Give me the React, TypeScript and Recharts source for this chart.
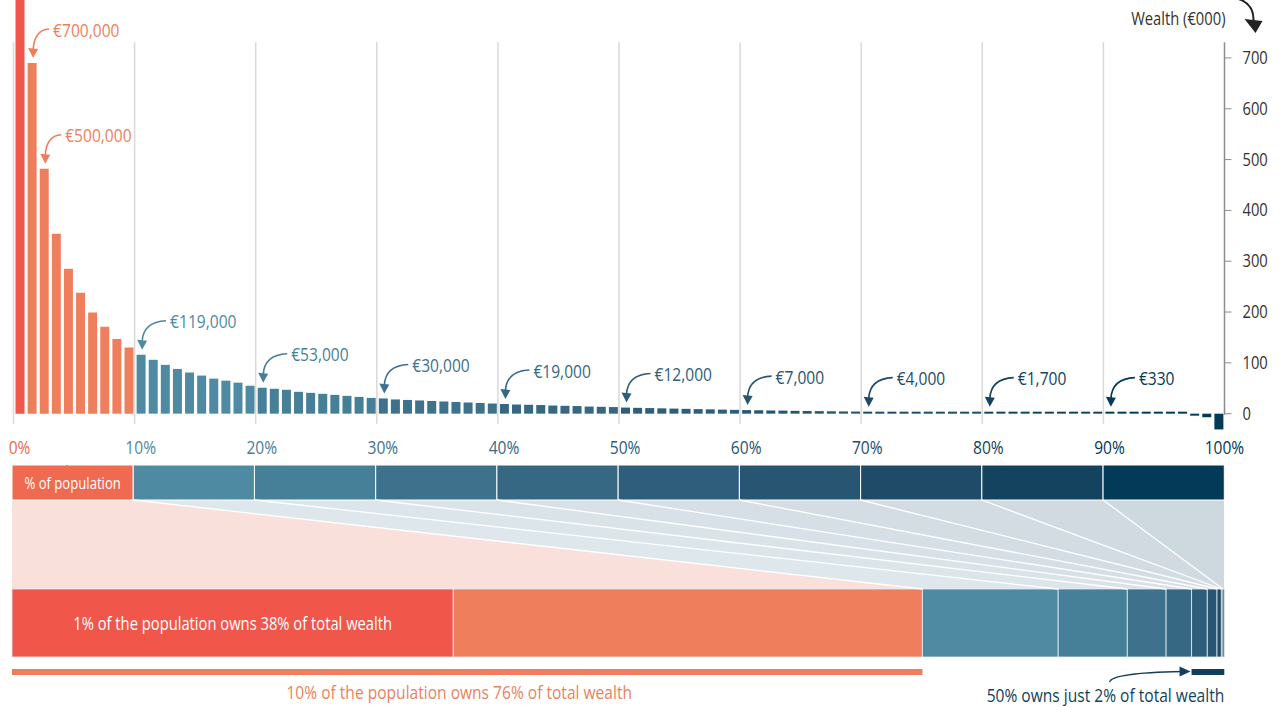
import React from 'react';
import { BarChart, Bar, Cell, XAxis, YAxis, ReferenceLine, LabelList, ComposedChart, Area, ReferenceArea } from 'recharts';

const FONT = "'Open Sans', 'Noto Sans', sans-serif";
const SQUEEZE = 0.82; // horizontal squeeze to mimic a condensed face

// wealth of each percentile of the population, €000, richest first (top 1% runs off the scale)
const WEALTH = [
  1500, 690, 482, 354, 285, 238, 199, 171, 147, 130,
  116, 106, 96, 88, 81, 75, 69, 65, 61, 55,
  51, 49, 47, 43, 41, 39, 37, 35, 33, 31,
  30, 28, 27, 26, 25, 24, 23, 22, 21, 20,
  19, 18, 17.5, 17, 16, 15.5, 15, 14, 13.5, 13,
  12, 11.5, 11, 10.5, 10, 9.5, 9, 8.5, 8, 7.5,
  7, 6.7, 6.3, 6, 5.6, 5.3, 5, 4.7, 4.4, 4.2,
  4, 3.7, 3.4, 3.1, 2.9, 2.6, 2.4, 2.2, 2, 1.8,
  1.7, 1.5, 1.4, 1.2, 1.1, 1, 0.9, 0.7, 0.6, 0.5,
  0.33, 0.3, 0.25, 0.2, 0.15, 0.1, 0.05, -2, -7, -31,
];

const CALLOUT_BARS = [2, 3, 11, 21, 31, 41, 51, 61, 71, 81, 91];
const CALLOUT_TEXT = ['€700,000', '€500,000', '€119,000', '€53,000', '€30,000', '€19,000', '€12,000', '€7,000', '€4,000', '€1,700', '€330'];

const PCT_TICKS = [1, 11, 21, 31, 41, 51, 61, 71, 81, 91, 100];
const PCT_LABELS = ['0%', '10%', '20%', '30%', '40%', '50%', '60%', '70%', '80%', '90%', '100%'];
const WEALTH_TICKS = [0, 100, 200, 300, 400, 500, 600, 700];

// share of total wealth (%): top 1%, next 9%, then deciles 10-20% ... 90-100%
const WEALTH_SHARE = [36.4, 38.7, 11.2, 5.7, 3.2, 2.1, 1.3, 0.8, 0.36, 0.13, 0.11];
// share of population (%) per decile
const POP_SHARE = [10, 10, 10, 10, 10, 10, 10, 10, 10, 10];

const TOP1 = '#F0564A';
const TOP10 = '#EF7F5C';
const POP_FIRST = '#EF6A50';
const DECILE = ['#4E8BA3', '#467F98', '#3E728C', '#366884', '#2E5E7B', '#275572', '#1F4B68', '#144360', '#033A58'];
const LINK_FILL = ['#F9E0DB', '#DDE7EC', '#DBE5EA', '#D9E3E8', '#D7E1E7', '#D5DFE5', '#D3DDE3', '#D2DCE2', '#D0DAE0', '#CED9DF'];
const NAVY = '#123F5E';

const barColor = (i: number) => (i === 0 ? TOP1 : i < 10 ? TOP10 : DECILE[Math.floor(i / 10) - 1]);

const rows = WEALTH.map((w, i) => ({ p: i + 1, w }));

const cum = (arr: number[]) => {
  const out = [0];
  arr.forEach((v) => out.push(out[out.length - 1] + v));
  const total = out[out.length - 1];
  return out.map((v) => Math.round((v * 100000) / total) / 1000);
};
const popEdges = cum(POP_SHARE);
const shareEdges = cum(WEALTH_SHARE);
const decileEdges = [0, ...shareEdges.slice(2)];

// vertical layout of the lower panel (chart units)
const Y_POP = [175, 210];
const Y_LINK = [86, 175];
const Y_BAR = [18, 86];
const Y_UNDER = [0, 6];

const T = Y_LINK[1];
const B = Y_LINK[0];
const edgeY = (k: number, x: number, vertical: number) => {
  const a = popEdges[k];
  const c = decileEdges[k];
  if (c <= a) return vertical;
  if (x <= a) return T;
  if (x >= c) return B;
  return T + ((B - T) * (x - a)) / (c - a);
};
const strip = (k: number) => {
  const xs = Array.from(new Set([popEdges[k], popEdges[k + 1], decileEdges[k], decileEdges[k + 1]]))
    .sort((m, n) => m - n)
    .filter((x) => x >= popEdges[k] && x <= decileEdges[k + 1]);
  return xs.map((x) => ({ x, r: [edgeY(k, x, B), edgeY(k + 1, x, T)] }));
};

// narrow text: draw at (x, y) squeezed horizontally
const CText = ({ x, y, children, ...rest }: any) => (
  <text transform={`translate(${x},${y}) scale(${SQUEEZE},1)`} fontFamily={FONT} {...rest}>
    {children}
  </text>
);

const Callout = (props: any) => {
  const { x, y, width, index } = props;
  const n = CALLOUT_BARS.indexOf(index + 1);
  if (n < 0) return null;
  const cx = x + width / 2;
  const top = y;
  const color = barColor(index);
  const dx = index < 10 ? 21 : 29;
  return (
    <g>
      <path d={`M${cx + dx - 4},${top - 34} Q${cx + 2},${top - 33} ${cx + 1},${top - 13}`} stroke={color} strokeWidth={1.6} fill="none" />
      <path d={`M${cx - 4},${top - 15} L${cx + 6},${top - 14} L${cx + 1},${top - 5} Z`} fill={color} />
      <CText x={cx + dx} y={top - 34} dominantBaseline="central" fill={color} fontSize={19}>
        {CALLOUT_TEXT[n]}
      </CText>
    </g>
  );
};

const PctTick = ({ x, y, payload }: any) => {
  const n = PCT_TICKS.indexOf(payload.value);
  const color = n === 0 ? POP_FIRST : DECILE[Math.min(n, 9) - 1];
  return (
    <CText x={x + (n === 10 ? 6 : 0)} y={y + 12} textAnchor="middle" fill={color} fontSize={19}>
      {PCT_LABELS[n]}
    </CText>
  );
};

const WealthTick = ({ x, y, payload }: any) => (
  <CText x={x + 9} y={y + 6} textAnchor="start" fill="#333" fontSize={18}>
    {payload.value}
  </CText>
);

const WealthTitle = (props: any) => {
  const vx = props.viewBox.x;
  return (
    <g>
      <CText x={vx + 1} y={18} textAnchor="end" dominantBaseline="central" fill="#333" fontSize={18}>
        Wealth (€000)
      </CText>
      <path d={`M${vx + 14},-1 Q${vx + 30},4 ${vx + 29},22`} stroke="#222" strokeWidth={2} fill="none" />
      <path d={`M${vx + 20},19 L${vx + 38},21 L${vx + 31},33 Z`} fill="#222" />
    </g>
  );
};

const PopLabel = (props: any) => {
  const { x, y, width, height } = props.viewBox;
  return (
    <g>
      <CText x={x + width / 2} y={y + height / 2} textAnchor="middle" dominantBaseline="central" fill="#fff" fontSize={16}>
        % of population
      </CText>
      <path d={`M${x + 55},${y + 1} Q${x + 55},${y - 16} ${x + 36},${y - 18}`} stroke={POP_FIRST} strokeWidth={1.6} fill="none" />
      <path d={`M${x + 29},${y - 18} L${x + 38},${y - 23} L${x + 38},${y - 13} Z`} fill={POP_FIRST} />
    </g>
  );
};

const TopLabel = (props: any) => {
  const { x, y, width, height } = props.viewBox;
  return (
    <CText x={x + width / 2} y={y + height / 2} textAnchor="middle" dominantBaseline="central" fill="#fff" fontSize={18}>
      1% of the population owns 38% of total wealth
    </CText>
  );
};

const Top10Label = (props: any) => {
  const { x, y, width, height } = props.viewBox;
  return (
    <CText x={x + width / 2 - 8} y={y + height + 24} textAnchor="middle" fill={TOP10} fontSize={19}>
      10% of the population owns 76% of total wealth
    </CText>
  );
};

const Bottom50Label = (props: any) => {
  const { x, y, width, height } = props.viewBox;
  return (
    <g>
      <CText x={x + width} y={y + height + 27} textAnchor="end" fill={NAVY} fontSize={19}>
        50% owns just 2% of total wealth
      </CText>
      <path d={`M${x - 82},${y + 13} Q${x - 80},${y + 4} ${x - 10},${y + 2.5}`} stroke={NAVY} strokeWidth={1.4} fill="none" />
      <path d={`M${x - 12},${y - 2.5} L${x - 1},${y + 2.5} L${x - 12},${y + 7.5} Z`} fill={NAVY} />
    </g>
  );
};

const WEALTH_COLORS = [TOP1, TOP10, ...DECILE];

export default function App() {
  return (
    <div style={{ position: 'absolute', left: 0, top: 0, width: 1280, height: 707, background: '#fff', fontFamily: FONT }}>
      <div style={{ position: 'absolute', left: 0, top: 0 }}>
        <BarChart width={1280} height={460} data={rows} margin={{ top: 0, right: 0, bottom: 0, left: 13.5 }} barSize={9}>
          <XAxis dataKey="p" type="category" ticks={PCT_TICKS} interval={0} tickLine={false} axisLine={false} height={26} tick={<PctTick />} />
          <YAxis
            orientation="right"
            width={55.5}
            domain={[-40, 814]}
            allowDataOverflow
            ticks={WEALTH_TICKS}
            interval={0}
            tickSize={7}
            tickLine={{ stroke: '#8c8c8c' }}
            axisLine={false}
            tick={<WealthTick />}
            label={WealthTitle}
          />
          {PCT_TICKS.slice(0, -1).map((p) => (
            <ReferenceLine key={`g${p}`} segment={[{ x: p, y: -20 }, { x: p, y: 731 }]} position="start" stroke="#d9d9d9" strokeWidth={1.5} />
          ))}
          <ReferenceLine segment={[{ x: 100, y: -2 }, { x: 100, y: 731 }]} position="end" stroke="#8c8c8c" strokeWidth={1.5} />
          <Bar dataKey="w" minPointSize={2} isAnimationActive={false}>
            {rows.map((r, i) => (
              <Cell key={`c${r.p}`} fill={barColor(i)} />
            ))}
            <LabelList dataKey="w" content={Callout} />
          </Bar>
        </BarChart>
      </div>
      <div style={{ position: 'absolute', left: 0, top: 465 }}>
        <ComposedChart width={1280} height={242} margin={{ top: 0, right: 55.7, bottom: 32, left: 12 }}>
          <XAxis type="number" dataKey="x" domain={[0, 100]} hide allowDataOverflow />
          <YAxis type="number" domain={[0, 210]} hide allowDataOverflow />
          {POP_SHARE.map((_, k) => (
            <Area
              key={`s${k}`}
              data={strip(k)}
              dataKey="r"
              type="linear"
              stroke="none"
              fill={LINK_FILL[k]}
              fillOpacity={1}
              dot={false}
              activeDot={false}
              isAnimationActive={false}
            />
          ))}
          {POP_SHARE.slice(1).map((_, i) => (
            <ReferenceLine
              key={`l${i}`}
              segment={[{ x: popEdges[i + 1], y: T }, { x: decileEdges[i + 1], y: B }]}
              stroke="#fff"
              strokeWidth={1.3}
            />
          ))}
          {POP_SHARE.map((_, k) => (
            <ReferenceArea
              key={`p${k}`}
              x1={popEdges[k]}
              x2={popEdges[k + 1]}
              y1={Y_POP[0]}
              y2={Y_POP[1]}
              fill={k === 0 ? POP_FIRST : DECILE[k - 1]}
              fillOpacity={1}
              stroke="#fff"
              strokeWidth={1}
              label={k === 0 ? PopLabel : undefined}
            />
          ))}
          {WEALTH_SHARE.map((_, j) => (
            <ReferenceArea
              key={`w${j}`}
              x1={shareEdges[j]}
              x2={shareEdges[j + 1]}
              y1={Y_BAR[0]}
              y2={Y_BAR[1]}
              fill={WEALTH_COLORS[j]}
              fillOpacity={1}
              stroke="#e8eef1"
              strokeWidth={0.8}
              label={j === 0 ? TopLabel : undefined}
            />
          ))}
          <ReferenceArea x1={0} x2={decileEdges[1]} y1={Y_UNDER[0]} y2={Y_UNDER[1]} fill={TOP10} fillOpacity={1} label={Top10Label} />
          <ReferenceArea x1={decileEdges[5]} x2={100} y1={Y_UNDER[0]} y2={Y_UNDER[1]} fill={NAVY} fillOpacity={1} label={Bottom50Label} />
        </ComposedChart>
      </div>
    </div>
  );
}
